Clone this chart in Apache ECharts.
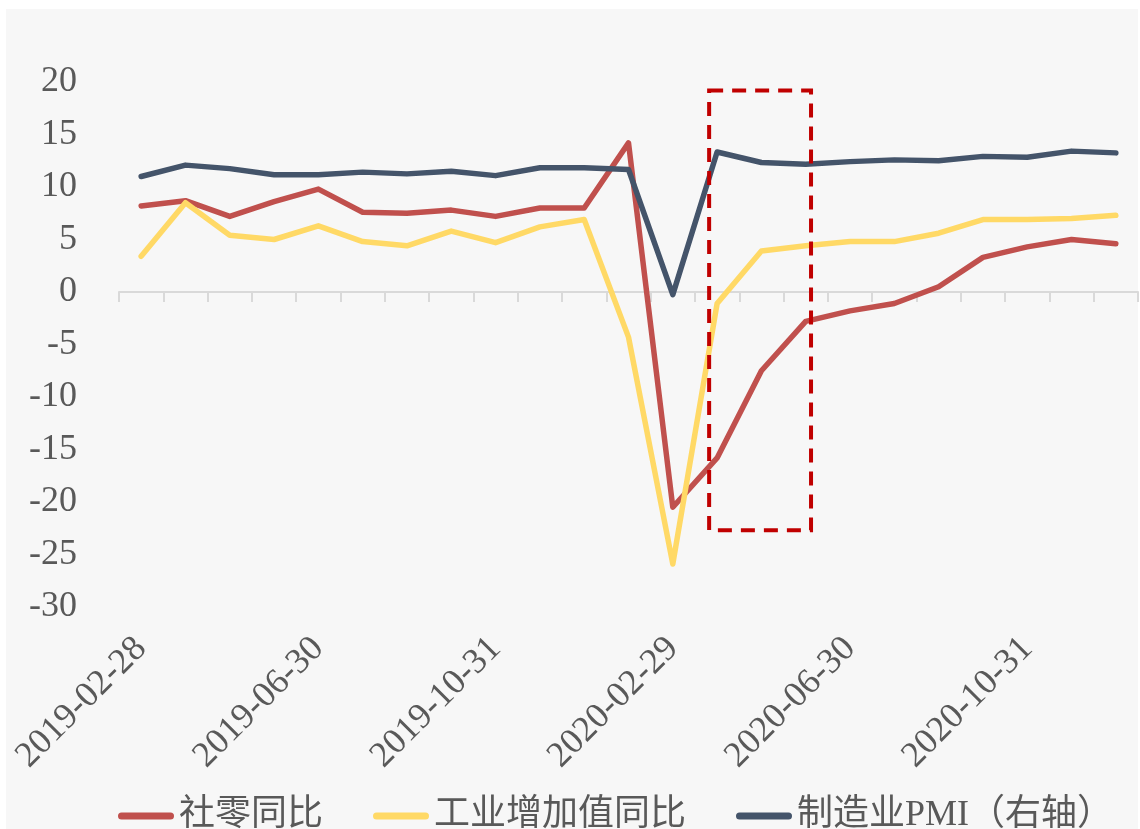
<!DOCTYPE html>
<html>
<head>
<meta charset="utf-8">
<script src="https://cdn.jsdelivr.net/npm/echarts@6/dist/echarts.min.js"></script>
<style>
html,body{margin:0;padding:0;background:#ffffff;}
#chart{width:1140px;height:829px;}
</style>
</head>
<body>
<div id="chart"></div>
<script>
const categories = [
  '2019-02-28','2019-03-31','2019-04-30','2019-05-31','2019-06-30','2019-07-31',
  '2019-08-31','2019-09-30','2019-10-31','2019-11-30','2019-12-31','2020-01-31',
  '2020-02-29','2020-03-31','2020-04-30','2020-05-31','2020-06-30','2020-07-31',
  '2020-08-31','2020-09-30','2020-10-31','2020-11-30','2020-12-31'
];
const retailYoY = [8.2, 8.7, 7.2, 8.6, 9.8, 7.6, 7.5, 7.8, 7.2, 8.0, 8.0, 14.2,
  -20.5, -15.8, -7.5, -2.8, -1.8, -1.1, 0.5, 3.3, 4.3, 5.0, 4.6];
const industryYoY = [3.4, 8.5, 5.4, 5.0, 6.3, 4.8, 4.4, 5.8, 4.7, 6.2, 6.9, -4.3,
  -25.9, -1.1, 3.9, 4.4, 4.8, 4.8, 5.6, 6.9, 6.9, 7.0, 7.3];
const pmi = [49.2, 50.5, 50.1, 49.4, 49.4, 49.7, 49.5, 49.8, 49.3, 50.2, 50.2, 50.0,
  35.7, 52.0, 50.8, 50.6, 50.9, 51.1, 51.0, 51.5, 51.4, 52.1, 51.9];
const seriesNames = ['社零同比', '工业增加值同比', '制造业PMI（右轴）'];
const leftTicks = {min: -30, max: 20, interval: 5};
const rightTicks = {min: 0, max: 60};
// annotation box (fractional category index range, left-axis value range)
const boxIdx = [12.82, 15.12];
const boxVal = [19.2, -22.7];

const colors = ['#C0504D', '#FFD966', '#44546A'];
const serif = "'Liberation Serif','Times New Roman','Noto Sans CJK SC',serif";
const textColor = '#595959';

const chart = echarts.init(document.getElementById('chart'), null, {renderer: 'canvas'});

function lineSeries(name, data, color, yIdx) {
  return {
    name: name, type: 'line', data: data, yAxisIndex: yIdx, xAxisIndex: 0,
    showSymbol: false, symbol: 'none', smooth: false,
    lineStyle: {color: color, width: 5.5, cap: 'round', join: 'round'},
    itemStyle: {color: color}
  };
}

const option = {
  animation: false,
  backgroundColor: '#ffffff',
  color: colors,
  grid: {left: 119, right: 2, top: 82, bottom: 222, containLabel: false},
  legend: {
    left: 113, top: 791,
    itemWidth: 56, itemHeight: 7, itemGap: 50,
    icon: 'path://M3.5,0 L52.5,0 A3.5,3.5 0 0 1 52.5,7 L3.5,7 A3.5,3.5 0 0 1 3.5,0 Z',
    textStyle: {fontFamily: serif, fontSize: 36, color: textColor, lineHeight: 40},
    data: seriesNames
  },
  xAxis: [
    {
      type: 'category', data: categories, boundaryGap: true,
      axisLine: {show: true, onZero: true, onZeroAxisIndex: 0, lineStyle: {color: '#d9d9d9', width: 2}},
      axisTick: {show: true, interval: 0, length: 10, lineStyle: {color: '#d9d9d9', width: 2}},
      axisLabel: {show: false},
      splitLine: {show: false}
    },
    {
      type: 'category', data: categories, boundaryGap: true, position: 'bottom',
      axisLine: {show: false, onZero: false},
      axisTick: {show: false},
      axisLabel: {show: true, interval: 3, rotate: 45, margin: 36,
        fontFamily: serif, fontSize: 36, color: textColor},
      splitLine: {show: false}
    }
  ],
  yAxis: [
    {
      type: 'value', min: leftTicks.min, max: leftTicks.max, interval: leftTicks.interval,
      axisLine: {show: false}, axisTick: {show: false}, splitLine: {show: false},
      axisLabel: {margin: 42, fontFamily: serif, fontSize: 36, color: textColor}
    },
    {
      type: 'value', min: rightTicks.min, max: rightTicks.max, position: 'right',
      show: false, splitLine: {show: false}
    }
  ],
  series: [
    lineSeries(seriesNames[0], retailYoY, colors[0], 0),
    lineSeries(seriesNames[1], industryYoY, colors[1], 0),
    lineSeries(seriesNames[2], pmi, colors[2], 1)
  ]
};
chart.setOption(option);

// pixel x for a fractional category index, interpolated between category centres
function idxToX(f) {
  const i0 = Math.floor(f);
  const a = chart.convertToPixel({xAxisIndex: 0}, i0);
  const b = chart.convertToPixel({xAxisIndex: 0}, i0 + 1);
  return a + (b - a) * (f - i0);
}
function valToY(v) {
  return chart.convertToPixel({yAxisIndex: 0}, v);
}
const bx1 = idxToX(boxIdx[0]), bx2 = idxToX(boxIdx[1]);
const by1 = valToY(boxVal[0]), by2 = valToY(boxVal[1]);
chart.setOption({
  graphic: [
    {type: 'rect', z: -10, silent: true,
      shape: {x: 6, y: 9, width: 1132, height: 820},
      style: {fill: '#f7f7f7'}},
    {type: 'rect', z: 100, silent: true,
      shape: {x: Math.min(bx1, bx2), y: Math.min(by1, by2),
        width: Math.abs(bx2 - bx1), height: Math.abs(by2 - by1)},
      style: {fill: 'none', stroke: '#C00000', lineWidth: 4, lineDash: [14, 9]}}
  ]
});
</script>
</body>
</html>
